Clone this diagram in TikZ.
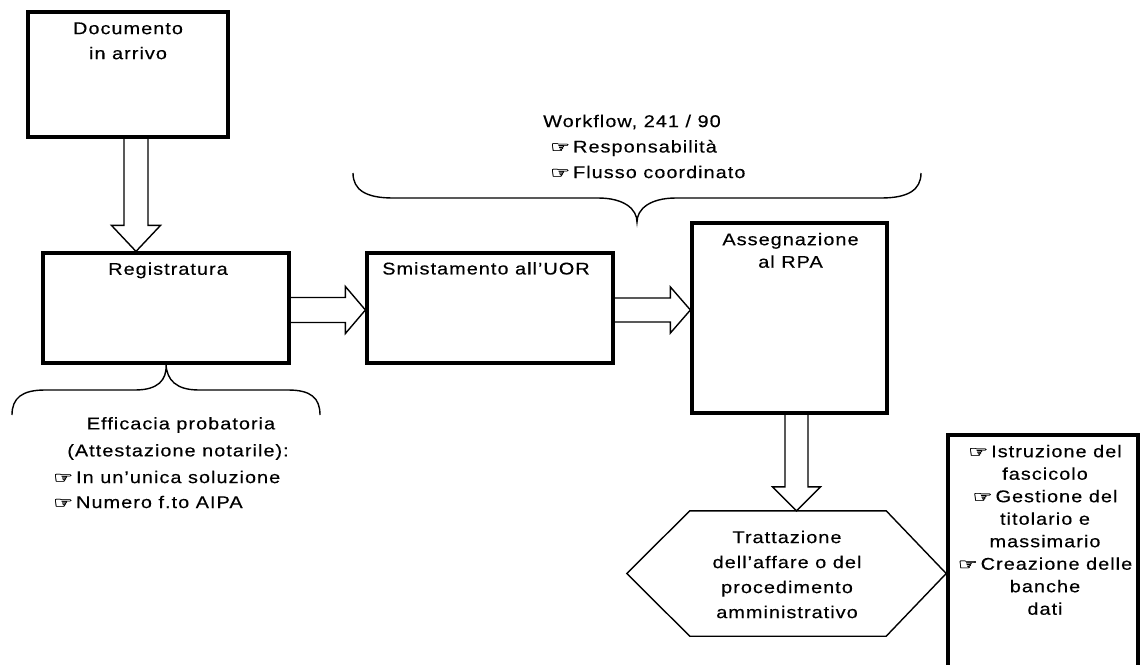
\documentclass[tikz,border=0pt]{standalone}
\usepackage{fontspec}
\usetikzlibrary{calc}
\newfontfamily\labfont{Liberation Sans}[FakeStretch=1.17, LetterSpace=6, FakeBold=0.3]
\newfontfamily\handfont{DejaVu Sans}[FakeStretch=1.4, FakeBold=1.5]
\newcommand\hand{{\handfont\fontsize{16}{16}\selectfont ☞}\,}
% block arrow: start, tip, shaft half-width, head half-width, head length
\newcommand\blockarr[5]{%
  \path ($(#2)!#5!(#1)$) coordinate (hb);
  \draw[blockarrow] ($(#1)!#3!90:(#2)$) -- ($(hb)!#3!90:(#2)$) -- ($(hb)!#4!90:(#2)$)
    -- (#2) -- ($(hb)!#4!-90:(#2)$) -- ($(hb)!#3!-90:(#2)$) -- ($(#1)!#3!-90:(#2)$);
}
\tikzset{
  stepbox/.style={draw, line width=3.2pt, inner sep=0pt, fill=white},
  txt/.style={font=\labfont\fontsize{17}{25}\selectfont, inner sep=0pt, align=center},
  txtn/.style={font=\labfont\fontsize{17}{22.5}\selectfont, inner sep=0pt, align=center},
  blockarrow/.style={draw, line width=1.4pt, line join=miter},
  bracepath/.style={draw, line width=1.4pt},
  hexline/.style={draw, line width=1.4pt, line join=miter},
}
\begin{document}
\begin{tikzpicture}[x=1pt, y=-1pt]
\useasboundingbox[fill=white] (0,0) rectangle (1143,664);

% main boxes
\node[stepbox, minimum width=200pt, minimum height=125pt] (doc) at (128,74.5) {};
\node[stepbox, minimum width=246pt, minimum height=110pt] (reg) at (166,308) {};
\node[stepbox, minimum width=246pt, minimum height=110pt] (smi) at (490,308) {};
\node[stepbox, minimum width=195pt, minimum height=190pt] (ass) at (789.5,318) {};
\node[stepbox, minimum width=190pt, minimum height=265pt] (notes) at (1043,567.5) {};
\node[inner sep=0pt, minimum width=196pt, minimum height=125pt] (hex) at (788,573.5) {};
\draw[hexline] (hex.north west) -- (hex.north east) -- ($(hex.east)+(60,0)$)
  -- (hex.south east) -- (hex.south west) -- ($(hex.west)+(-63,0)$) -- cycle;

% box labels
\node[txt] (tdoc) at ($(doc.north)+(0,30.5)$) {Documento\\in arrivo};
\node[txt] (treg) at ($(reg.north)+(2,19)$) {Registratura};
\node[txt] (tsmi) at ($(smi.north)+(-4,17)$) {Smistamento all’UOR};
\node[txtn] (tass) at ($(ass.north)+(1,29)$) {Assegnazione\\al RPA};
\node[txt] (thex) at ($(hex.center)+(-1,1)$) {Trattazione\\dell’affare o del\\procedimento\\amministrativo};
\node[txtn] (tnotes) at ($(notes.north)+(2,96.5)$) {\hand Istruzione del\\fascicolo\\\hand Gestione del\\titolario e\\massimario\\\hand Creazione delle\\banche\\dati};

% block arrows between the steps
\coordinate (a1s) at ($(doc.south)+(8,0)$);
\coordinate (a1e) at (a1s |- reg.north);
\blockarr{a1s}{a1e}{12pt}{24.5pt}{26pt}
\coordinate (a2s) at ($(reg.east)+(0,2)$);
\coordinate (a2e) at (a2s -| smi.west);
\blockarr{a2s}{a2e}{12.5pt}{23.5pt}{20pt}
\coordinate (a3s) at ($(smi.east)+(0,2)$);
\coordinate (a3e) at (a3s -| ass.west);
\blockarr{a3s}{a3e}{12pt}{23pt}{20pt}
\coordinate (a4s) at ($(ass.south)+(7,0)$);
\coordinate (a4e) at (a4s |- hex.north);
\blockarr{a4s}{a4e}{11.5pt}{24pt}{24pt}

% workflow brace and notes
\draw[bracepath] (353,173) .. controls (353,190) and (366,198) .. (393,198) -- (598,198)
  .. controls (624,198) and (637,209) .. (637,222)
  .. controls (637,209) and (650,198) .. (676,198) -- (881,198)
  .. controls (908,198) and (921,190) .. (921,173);
\node[txt, anchor=west] (wf) at (543,122) {Workflow, 241 / 90};
\node[txt, anchor=west] (wf1) at (550,148) {\hand Responsabilità};
\node[txt, anchor=west] (wf2) at (550,172) {\hand Flusso coordinato};

% registration brace and notes
\coordinate (bt) at (reg.south);
\draw[bracepath] (12,415) .. controls (12,398) and (22,390) .. (45,390) -- (135,390)
  .. controls (158,390) and (167,380) .. (bt)
  .. controls (167,380) and (176,390) .. (199,390) -- (288,390)
  .. controls (311,390) and (320,398) .. (320,415);
\node[txt] (ef1) at (181,425) {Efficacia probatoria};
\node[txt] (ef2) at (178,452) {(Attestazione notarile):};
\node[txt, anchor=west] (ef3) at (53,477) {\hand In un’unica soluzione};
\node[txt, anchor=west] (ef4) at (53,502) {\hand Numero f.to AIPA};
\end{tikzpicture}
\end{document}
